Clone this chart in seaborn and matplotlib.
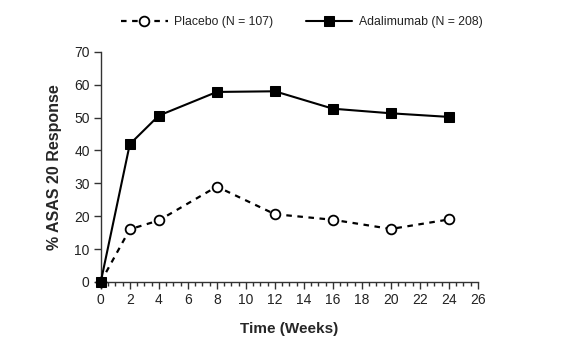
import matplotlib
matplotlib.use("Agg")
import matplotlib.pyplot as plt
from matplotlib.ticker import MultipleLocator
import seaborn as sns
import pandas as pd

weeks = [0, 2, 4, 8, 12, 16, 20, 24]
placebo = [0, 16.0, 18.7, 29.0, 20.6, 18.9, 16.1, 19.0]
adalimumab = [0, 41.9, 50.6, 57.8, 58.0, 52.7, 51.3, 50.2]
placebo_label = "Placebo (N = 107)"
adalimumab_label = "Adalimumab (N = 208)"

sns.set_theme(style="ticks")
plt.rcParams["font.family"] = ["Liberation Sans", "DejaVu Sans"]

fig = plt.figure(figsize=(5.63, 3.48), dpi=100)
ax = fig.add_axes([0.179, 0.19, 0.67, 0.661])

df_p = pd.DataFrame({"week": weeks, "value": placebo})
df_a = pd.DataFrame({"week": weeks, "value": adalimumab})

sns.lineplot(data=df_p, x="week", y="value", ax=ax, color="black",
             linestyle=(0, (2.5, 2.5)), linewidth=1.6, marker="o", markersize=7,
             markerfacecolor="white", markeredgecolor="black",
             markeredgewidth=1.3, label=placebo_label, clip_on=False, zorder=3)
sns.lineplot(data=df_a, x="week", y="value", ax=ax, color="black",
             linestyle="-", linewidth=1.5, marker="s", markersize=7,
             markerfacecolor="black", markeredgecolor="black",
             label=adalimumab_label, clip_on=False, zorder=4)

ax.set_xlim(0, 26)
ax.set_ylim(0, 70)
ax.xaxis.set_major_locator(MultipleLocator(2))
ax.xaxis.set_minor_locator(MultipleLocator(0.5))
ax.yaxis.set_major_locator(MultipleLocator(10))
ax.tick_params(axis="both", which="major", labelsize=10, length=5,
               width=1, color="#333333", labelcolor="#222222", pad=3)
ax.tick_params(axis="x", which="minor", length=3, width=1, color="#333333")
ax.yaxis.set_tick_params(which="minor", length=0)

for side in ("top", "right"):
    ax.spines[side].set_visible(False)
for side in ("left", "bottom"):
    ax.spines[side].set_color("#333333")
    ax.spines[side].set_linewidth(1.0)

ax.set_xlabel("Time (Weeks)", fontsize=11, fontweight="bold", labelpad=11)
ax.set_ylabel("% ASAS 20 Response", fontsize=11.5, fontweight="bold", labelpad=9)

ax.legend(loc="center", bbox_to_anchor=(0.536, 0.937),
          bbox_transform=fig.transFigure, ncol=2, frameon=False,
          fontsize=8.8, handlelength=3.8, columnspacing=2.7,
          handletextpad=0.5, labelcolor="#222222")

fig.savefig("out.png", dpi=100)
